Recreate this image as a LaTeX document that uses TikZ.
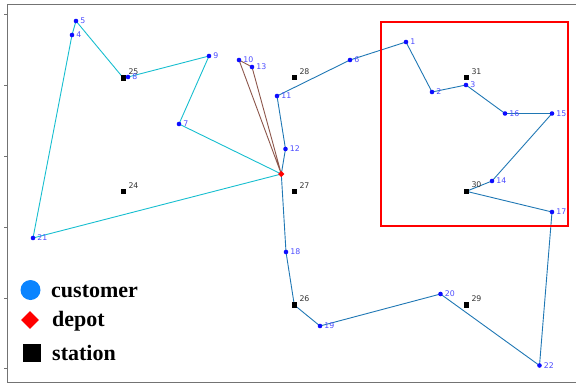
\documentclass[tikz,border=0pt]{standalone}
\usepackage{fontspec}
\setmainfont{Liberation Serif}
\newfontfamily\lblfont{DejaVu Sans}
\usetikzlibrary{shapes.geometric}
\definecolor{custblue}{rgb}{0.05,0.05,1}
\definecolor{labblue}{rgb}{0.3,0.3,1}
\definecolor{legblue}{RGB}{10,132,255}
\definecolor{rcyan}{HTML}{17BECF}
\definecolor{rblue}{HTML}{1F77B4}
\definecolor{rbrown}{HTML}{8C564B}
\tikzset{
  cust/.style={circle, fill=custblue, inner sep=0pt, minimum size=4.6pt},
  stat/.style={rectangle, fill=black, inner sep=0pt, minimum size=5.6pt},
  dep/.style={diamond, fill=red, inner sep=0pt, minimum size=6.5pt},
  clab/.style={font=\lblfont\fontsize{7.8}{8}\selectfont, text=labblue, inner sep=0pt, label distance=1.7pt},
  slab/.style={font=\lblfont\fontsize{7.8}{8}\selectfont, text=black!80, inner sep=0pt, xshift=2pt},
  route/.style={line width=0.9pt, line join=round},
  spine/.style={black!55, line width=0.8pt},
  legtext/.style={font=\bfseries\fontsize{22}{24}\selectfont, anchor=base west, inner sep=0pt}
}
\begin{document}
\begin{tikzpicture}[x=1pt, y=-1pt]
\useasboundingbox (0,0) rectangle (576,386);
% axes
\draw[spine] (576,4) -- (7,4) -- (7,382) -- (576,382);
\foreach \ty in {14,85,156,227,298,368} \draw[spine] (4,\ty) -- (7,\ty);
% coordinates
\coordinate (p1) at (406,42);
\coordinate (p2) at (432,92);
\coordinate (p3) at (466,85);
\coordinate (p4) at (72,35);
\coordinate (p5) at (76,21);
\coordinate (p6) at (350,60);
\coordinate (p7) at (179,124);
\coordinate (p8) at (128,77);
\coordinate (p9) at (209,56);
\coordinate (p10) at (239,60);
\coordinate (p11) at (277,96);
\coordinate (p12) at (285.5,149);
\coordinate (p13) at (252,67);
\coordinate (p14) at (492,181);
\coordinate (p15) at (552,113.5);
\coordinate (p16) at (505,113.5);
\coordinate (p17) at (552,212);
\coordinate (p18) at (286,252);
\coordinate (p19) at (320,326);
\coordinate (p20) at (440.5,294);
\coordinate (p21) at (33,238);
\coordinate (p22) at (539.5,365.5);
\coordinate (p24) at (123.3,191.5);
\coordinate (p25) at (123.3,78);
\coordinate (p26) at (294.3,305);
\coordinate (p27) at (294.3,191.5);
\coordinate (p28) at (294.3,77.5);
\coordinate (p29) at (466.3,305);
\coordinate (p30) at (466.3,191.3);
\coordinate (p31) at (466.3,77.5);
\coordinate (pd) at (281.3,174);
% routes
\draw[route, rcyan] (pd) -- (p21) -- (p4) -- (p5) -- (p25) -- (p8) -- (p9) -- (p7) -- (pd);
\draw[route, rbrown] (pd) -- (p10) -- (p13) -- (pd);
\draw[route, rblue] (pd) -- (p12) -- (p11) -- (p6) -- (p1) -- (p2) -- (p3) -- (p16) -- (p15) -- (p14) -- (p30) -- (p17) -- (p22) -- (p20) -- (p19) -- (p26) -- (p18) -- (pd);
% stations
\foreach \s in {24,25,26,27,28,29,30,31}
  \node[stat, label={[slab]north east:\s}] (s\s) at (p\s) {};
% customers
\foreach \c in {1,...,22}
  \ifnum\c=23\else
  \node[cust, label={[clab]east:\c}] (c\c) at (p\c) {};
  \fi
% depot
\node[dep] (d) at (pd) {};
% highlight box
\draw[red, line width=2pt] (381,22) rectangle (567.5,226);
% legend
\node[circle, fill=legblue, inner sep=0pt, minimum size=20pt] (lc) at (30.5,290) {};
\node[diamond, fill=red, inner sep=0pt, minimum size=18pt] (ld) at (30,320) {};
\node[rectangle, fill=black, inner sep=0pt, minimum size=18pt] (ls) at (31.7,353) {};
\node[legtext] (tc) at (51,297) {customer};
\node[legtext] (td) at (52,326) {depot};
\node[legtext] (ts) at (52,360) {station};
\end{tikzpicture}
\end{document}
